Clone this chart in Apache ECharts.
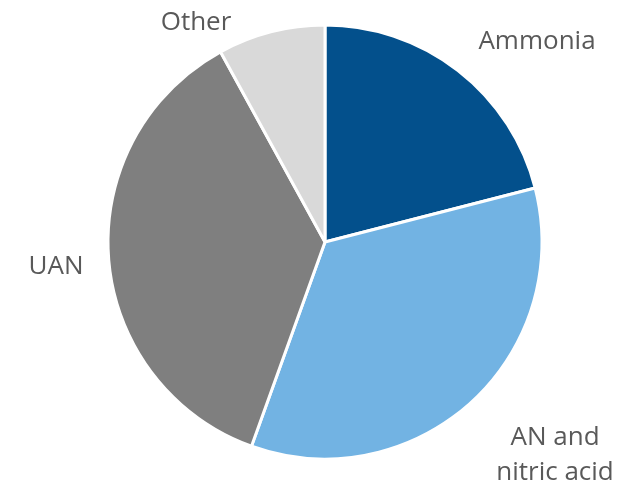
<!DOCTYPE html>
<html>
<head>
<meta charset="utf-8">
<script src="https://cdn.jsdelivr.net/npm/echarts@6/dist/echarts.min.js"></script>
<style>
  html, body { margin: 0; padding: 0; background: #ffffff; }
  #chart { width: 634px; height: 486px; }
</style>
</head>
<body>
<div id="chart"></div>
<script>
// Nitrogen fertilizer product shares (%)
const categories = ['Ammonia', 'AN and\nnitric acid', 'UAN', 'Other'];
const shares = [21, 34.5, 36.5, 8];
const colors = ['#03508C', '#72B3E3', '#7F7F7F', '#D9D9D9'];

// Where each category name sits around the pie
const labelSpots = [
  [537, 42],
  [555, 455],
  [56, 267],
  [196, 23]
];

const chart = echarts.init(document.getElementById('chart'), null, { renderer: 'canvas' });

chart.setOption({
  animation: false,
  backgroundColor: '#ffffff',
  series: [{
    type: 'pie',
    center: [325, 242],
    radius: 217,
    startAngle: 90,
    clockwise: true,
    data: categories.map((name, i) => ({
      name: name,
      value: shares[i],
      itemStyle: { color: colors[i] }
    })),
    itemStyle: { borderColor: '#ffffff', borderWidth: 3 },
    label: {
      show: true,
      position: 'outside',
      formatter: '{b}',
      color: '#595959',
      fontFamily: 'Open Sans',
      fontSize: 26,
      lineHeight: 35,
      align: 'center',
      overflow: 'none'
    },
    labelLine: { show: false },
    labelLayout: function (params) {
      const p = labelSpots[params.dataIndex];
      return { x: p[0], y: p[1], align: 'center', verticalAlign: 'middle' };
    },
    emphasis: { disabled: true }
  }]
});
</script>
</body>
</html>
